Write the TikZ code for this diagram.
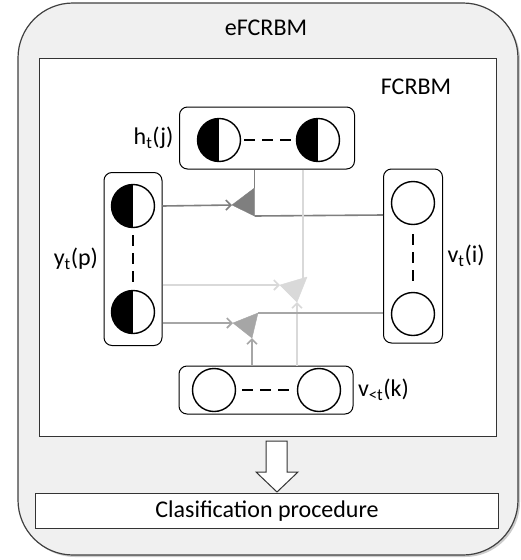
\documentclass[tikz,border=0pt]{standalone}
\usepackage{fontspec}
\setmainfont{Carlito}
\usetikzlibrary{positioning,arrows.meta,shadows}

\definecolor{factA}{HTML}{7F7F7F}
\definecolor{factB}{HTML}{D9D9D9}
\definecolor{factC}{HTML}{A6A6A6}
\definecolor{outerfill}{HTML}{F0F0F0}

\begin{document}
\begin{tikzpicture}[x=1pt,y=-1pt,
    every node/.style={font=\fontsize{24}{28}\selectfont},
    layer/.style={draw,rounded corners=8pt,line width=1pt,inner sep=0pt},
    unit/.style={circle,draw,line width=1.4pt,minimum size=43pt,inner sep=0pt,fill=white},
    halfunit/.style={unit,path picture={\fill[black] (path picture bounding box.north west) rectangle (path picture bounding box.south);}},
    dots/.style={line width=2.8pt,dash pattern=on 11pt off 7pt},
    wire/.style={line width=1.6pt},
    >={Straight Barb[length=5pt,width=10pt]}]
\useasboundingbox (0,0) rectangle (521,560);

% eFCRBM frame
\draw[rounded corners=55pt,fill=outerfill,draw=black!75,line width=1.2pt,
      drop shadow={shadow xshift=2pt,shadow yshift=-2pt,fill=black!40}]
  (18,3) rectangle (518,555);
\node (efcrbm) at (266,28) {eFCRBM};
\draw[fill=white,draw=black!80,line width=1pt] (39.5,58.5) rectangle (496.5,436);
\node (fcrbm) at (416,87) {FCRBM};

% layers
\node[layer,minimum width=175,minimum height=62]  (hbox) at (267,138) {};
\node[layer,minimum width=58,minimum height=173]  (ybox) at (133,259) {};
\node[layer,minimum width=59,minimum height=174]  (vbox) at (413,256) {};
\node[layer,minimum width=174,minimum height=48]  (kbox) at (266,390) {};

\node[halfunit] (h1) at (219,140) {};
\node[halfunit] (h2) at (318,140) {};
\node[halfunit] (y1) at (133,206) {};
\node[halfunit] (y2) at (133,312) {};
\node[unit]     (v1) at (413,203) {};
\node[unit]     (v2) at (413,314) {};
\node[unit]     (k1) at (214,390) {};
\node[unit]     (k2) at (319,390) {};

\draw[dots,shorten <=3pt,shorten >=4pt] (h1) -- (h2);
\draw[dots,shorten <=7pt,shorten >=7pt] (y1) -- (y2);
\draw[dots,shorten <=9pt,shorten >=9pt] (v1) -- (v2);
\draw[dots,shorten <=6pt,shorten >=7pt] (k1) -- (k2);

\node[left=2pt of hbox]  (hlab) {h\textsubscript{t}(j)};
\node[left=2pt of ybox]  (ylab) {y\textsubscript{t}(p)};
\node[right=1pt of vbox] (vlab) {v\textsubscript{t}(i)};
\node[right=1pt of kbox] (klab) {v\textsubscript{<t}(k)};

% factors
\coordinate (a1) at (232,205);
\coordinate (b1) at (254.5,188);
\coordinate (c1) at (254.5,216);
\coordinate (a2) at (280,285);
\coordinate (b2) at (307,277);
\coordinate (c2) at (297,302);
\coordinate (a3) at (233,323);
\coordinate (b3) at (258,313);
\coordinate (c3) at (252,338);
\coordinate (d2) at (303,281);

\draw[wire,factA] (hbox.south -| b1) -- (b1);
\draw[wire,factA] (vbox.west |- 0,215) -- (c1);
\draw[wire,factA,->] (ybox.east |- y1) -- (a1);

\draw[wire,factB] (hbox.south -| d2) -- (d2);
\draw[wire,factB,->] (ybox.east |- a2) -- (a2);
\draw[wire,factB,->] (kbox.north -| c2) -- (c2);

\draw[wire,factC] (vbox.west |- b3) -- (b3);
\draw[wire,factC,->] (ybox.east |- a3) -- (a3);
\draw[wire,factC,->] (kbox.north -| c3) -- (c3);

\fill[factA,draw=factA,line join=round] (a1) -- (b1) -- (c1) -- cycle;
\fill[factB,draw=factB,line join=round] (a2) -- (b2) -- (c2) -- cycle;
\fill[factC,draw=factC,line join=round] (a3) -- (b3) -- (c3) -- cycle;

% classification
\draw[fill=white,draw=black!80,line width=1pt,line join=miter]
  (266,441) -- (287,441) -- (287,472) -- (298,472) -- (277,492)
  -- (256,472) -- (266,472) -- cycle;
\node[draw=black!80,line width=1pt,fill=white,minimum width=463,minimum height=35,inner sep=0pt]
  (clas) at (267,511) {Clasification\ procedure};
\end{tikzpicture}
\end{document}
